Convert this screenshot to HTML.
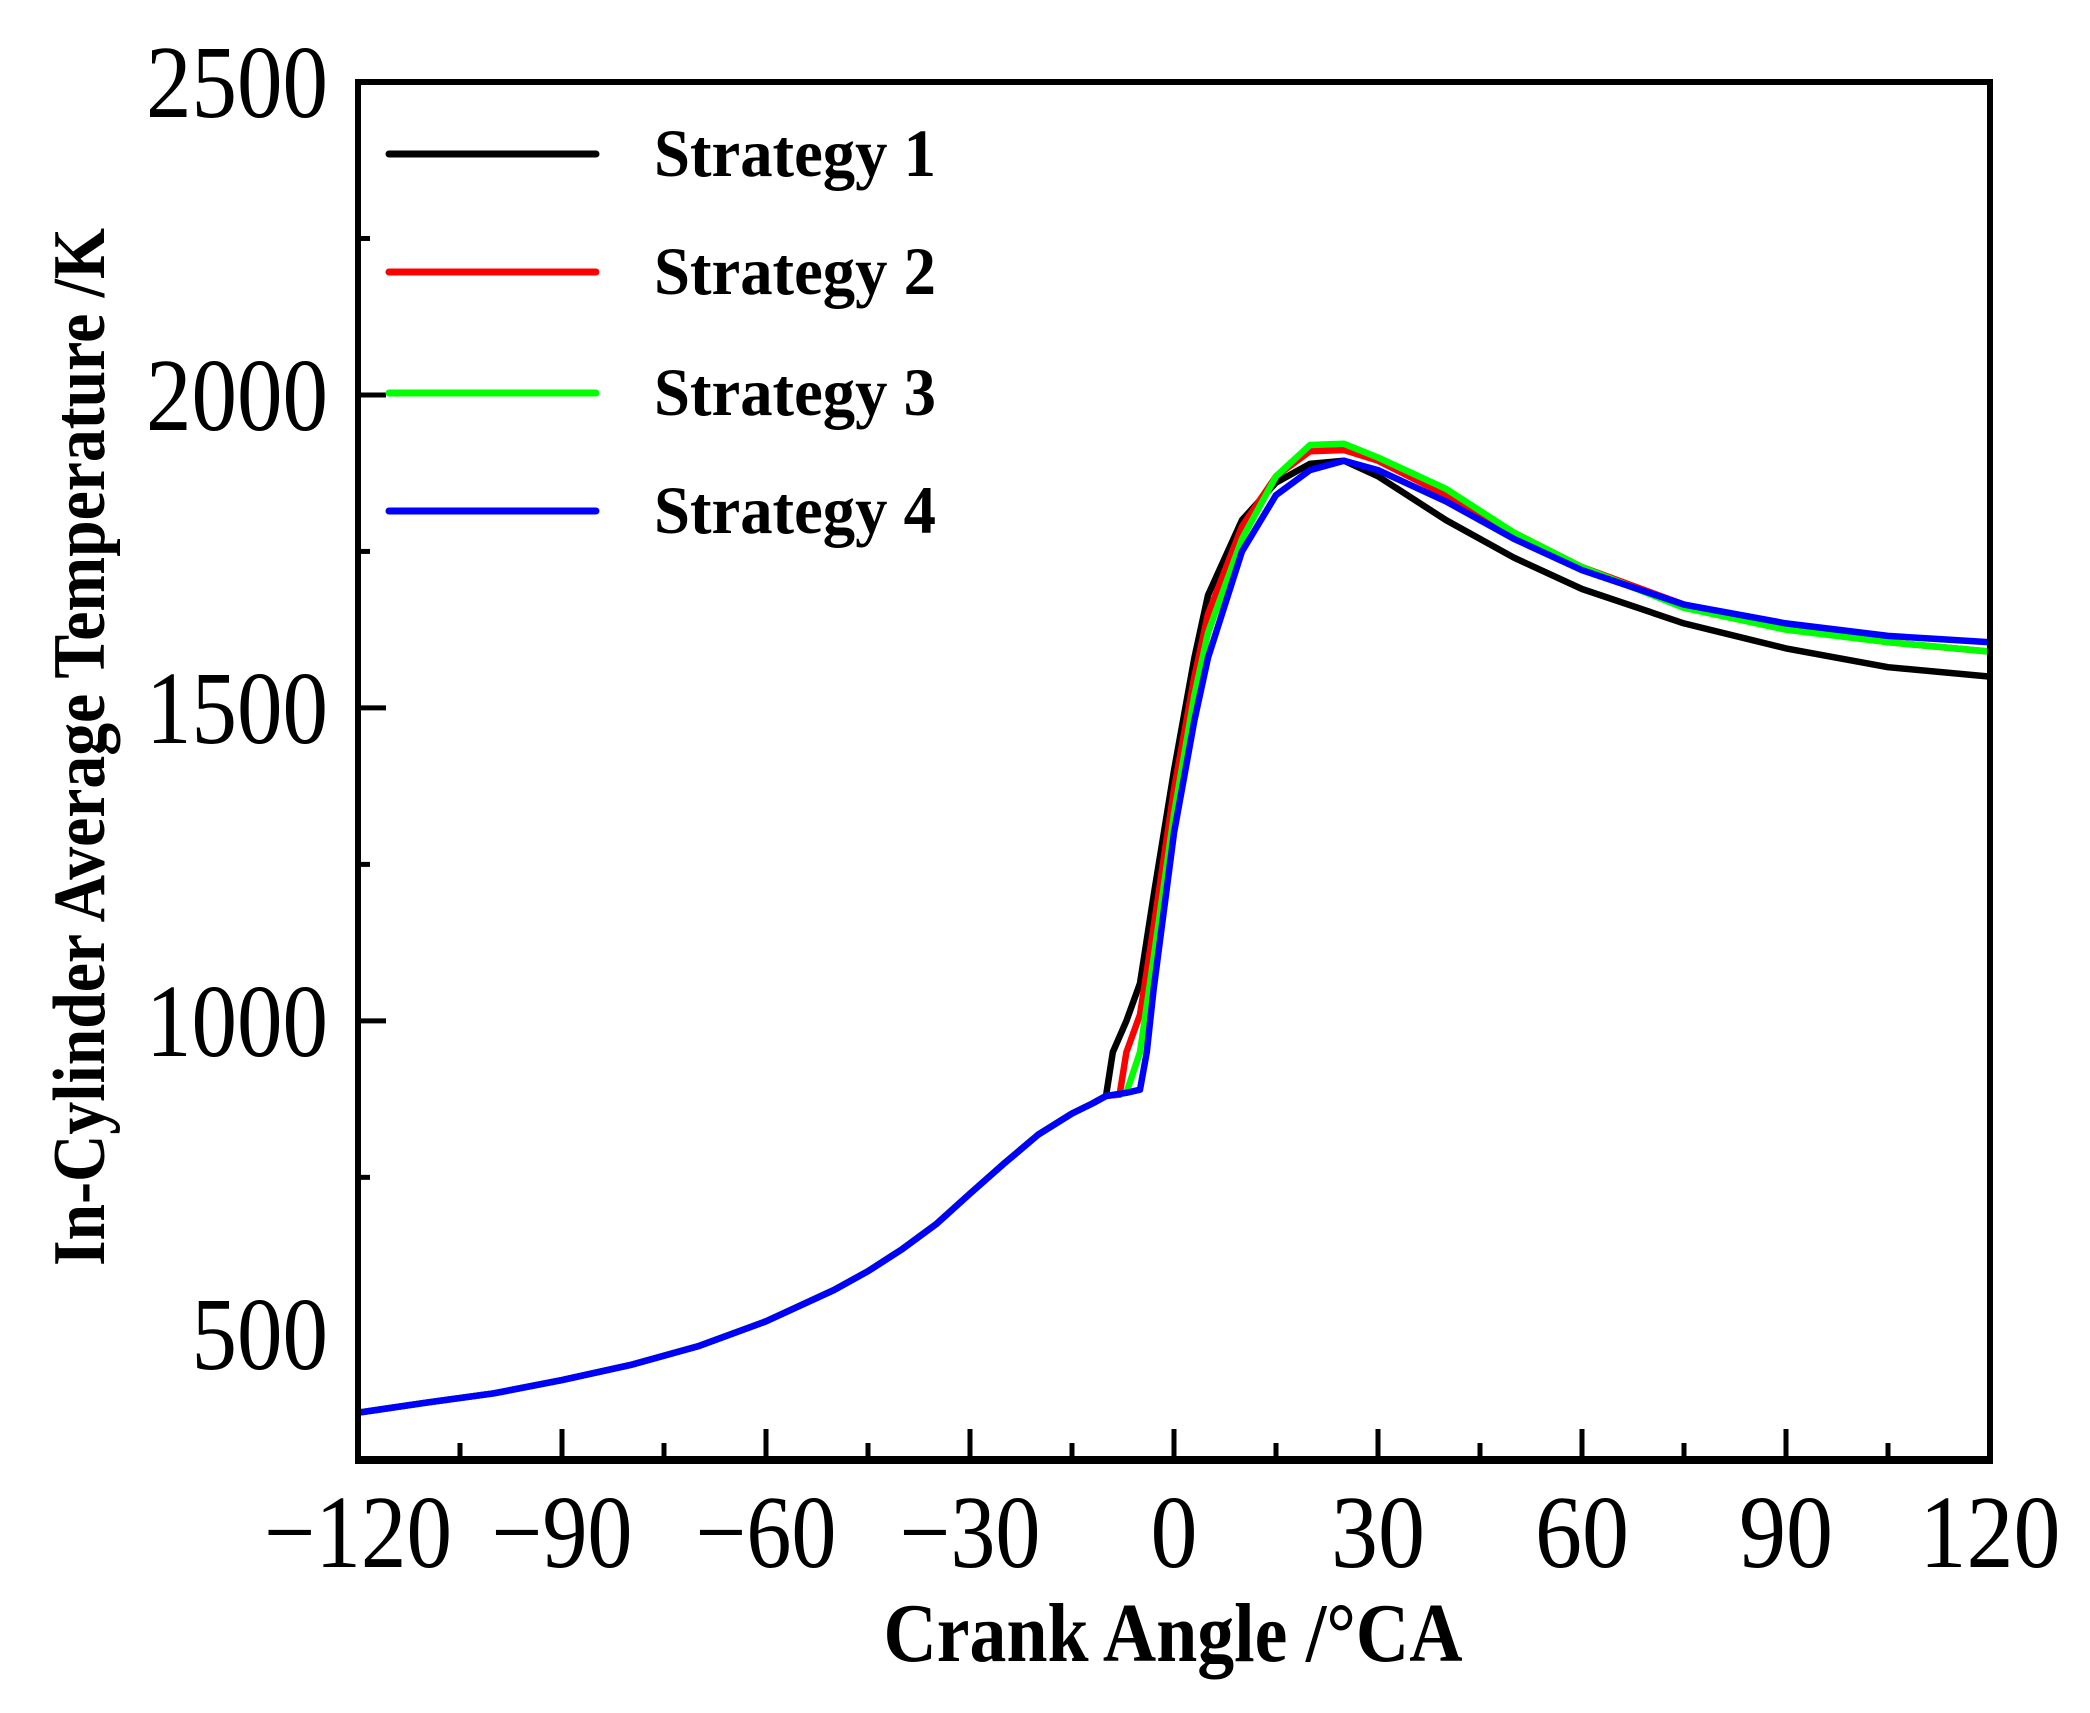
<!DOCTYPE html>
<html><head><meta charset="utf-8"><style>
html,body{margin:0;padding:0;background:#fff}
svg{display:block}
</style></head><body>
<svg id="chart" xmlns="http://www.w3.org/2000/svg" width="2090" height="1713" viewBox="0 0 2090 1713">
<rect x="0" y="0" width="2090" height="1713" fill="#fff"/>
<g id="series"></g>
<g id="axes"></g>
<g id="legend"></g>
</svg>
<script>
const compX = [-120,-110,-100,-90,-80,-70,-60,-50,-45,-40,-35,-30,-25,-20,-15,-12,-10];
const compY = [374,390,405,426,450,480,520,570,600,635,675,724,772,818,852,868,880];
const s1X = [-9,-7,-5,-3,0,3,5,10,15,20,25,30,40,50,60,75,90,105,120];
const s1Y = [950,1000,1060,1200,1400,1580,1680,1800,1860,1890,1895,1870,1800,1740,1690,1635,1595,1565,1550];
const s2X = [-8,-7,-5,-3,0,3,5,10,15,20,25,30,40,50,60,75,90,105,120];
const s2Y = [882,950,1010,1150,1370,1550,1650,1790,1870,1910,1912,1895,1840,1780,1725,1665,1630,1605,1590];
const s3X = [-7,-5,-3,0,3,5,10,15,20,25,30,40,50,60,75,90,105,120];
const s3Y = [885,950,1100,1330,1520,1620,1770,1870,1920,1922,1900,1850,1780,1725,1660,1625,1605,1590];
const s4X = [-7,-5,-4,-3,0,3,5,10,15,20,25,30,40,50,60,75,90,105,120];
const s4Y = [885,890,950,1050,1300,1480,1580,1750,1840,1880,1895,1880,1830,1770,1720,1665,1635,1615,1605];
const seriesNames = ["Strategy 1","Strategy 2","Strategy 3","Strategy 4"];
const seriesColors = ["#000000","#ff0000","#00ff00","#0000ff"];
const xTicks = [-120,-90,-60,-30,0,30,60,90,120];
const xTickLabels = ["\u2212120","\u221290","\u221260","\u221230","0","30","60","90","120"];
const yTicks = [500,1000,1500,2000,2500];
const yTickLabels = ["500","1000","1500","2000","2500"];

const L=358,R=1990,T=82,B=1459,XMIN=-120,XMAX=120,YMIN=300,YMAX=2500;
const sx=v=>L+(v-XMIN)/(XMAX-XMIN)*(R-L);
const sy=v=>B-(v-YMIN)/(YMAX-YMIN)*(B-T);
const NS="http://www.w3.org/2000/svg";
function mk(tag,attrs,parent){const e=document.createElementNS(NS,tag);for(const k in attrs)e.setAttribute(k,attrs[k]);parent.appendChild(e);return e;}
const gS=document.getElementById('series'),gA=document.getElementById('axes'),gL=document.getElementById('legend');
const sets=[[s1X,s1Y],[s2X,s2Y],[s3X,s3Y],[s4X,s4Y]];
sets.forEach((s,i)=>{
  const xs=compX.concat(s[0]),ys=compY.concat(s[1]);
  const d=xs.map((x,j)=>(j?'L':'M')+sx(x).toFixed(1)+' '+sy(ys[j]).toFixed(1)).join(' ');
  const p=mk('path',{d:d,fill:'none',stroke:seriesColors[i],'stroke-width':6.5,'stroke-linejoin':'round'},gS);
  
  
});
const fr=mk('rect',{x:L,y:T,width:R-L,height:B-T,fill:'none',stroke:'#000','stroke-width':6},gA);


const bx=mk('line',{x1:L-3,x2:R+3,y1:B+1,y2:B+1,stroke:'#000','stroke-width':8},gA);


for(let v=-105;v<120;v+=15){
  const major=v%30===0;
  const t=mk('line',{x1:sx(v),x2:sx(v),y1:B,y2:B-(major?30:16),stroke:'#000','stroke-width':5},gA);
  
  
}
xTicks.forEach((v,i)=>{
  const w=xTickLabels[i].length*47;
  const t=mk('text',{x:sx(v),y:1567,'text-anchor':'middle','font-family':'"Liberation Serif",serif','font-size':104,textLength:w,lengthAdjust:'spacingAndGlyphs'},gA);
  t.textContent=xTickLabels[i];
  
  
});
for(let v=750;v<2500;v+=250){
  const major=v%500===0;
  const t=mk('line',{x1:L,x2:L+(major?28:12),y1:sy(v),y2:sy(v),stroke:'#000','stroke-width':5},gA);
  
  
}
yTicks.forEach((v,i)=>{
  const w=yTickLabels[i].length*45.5;
  const t=mk('text',{x:328,y:sy(v)+35,'text-anchor':'end','font-family':'"Liberation Serif",serif','font-size':104,textLength:w,lengthAdjust:'spacingAndGlyphs'},gA);
  t.textContent=yTickLabels[i];
  
  
});
const xt=mk('text',{x:1173,y:1661,'text-anchor':'middle','font-family':'"Liberation Serif",serif','font-size':84,'font-weight':'bold',textLength:579,lengthAdjust:'spacingAndGlyphs'},gA);
xt.textContent='Crank Angle /\u00b0CA';


const yt=mk('text',{x:0,y:0,transform:'translate(104,747) rotate(-90)','text-anchor':'middle','font-family':'"Liberation Serif",serif','font-size':74,'font-weight':'bold',textLength:1038,lengthAdjust:'spacingAndGlyphs'},gA);
yt.textContent='In-Cylinder Average Temperature /K';


const legY=[154,272,393,511];
seriesNames.forEach((n,i)=>{
  const g=mk('g',{},gL);
  
  
  mk('line',{x1:389,x2:596,y1:legY[i],y2:legY[i],stroke:seriesColors[i],'stroke-width':7,'stroke-linecap':'round'},g);
  const t=mk('text',{x:654,y:legY[i]+22,'font-family':'"Liberation Serif",serif','font-size':68,'font-weight':'bold',textLength:282,lengthAdjust:'spacingAndGlyphs'},g);
  t.textContent=n;
});
</script>
</body></html>
